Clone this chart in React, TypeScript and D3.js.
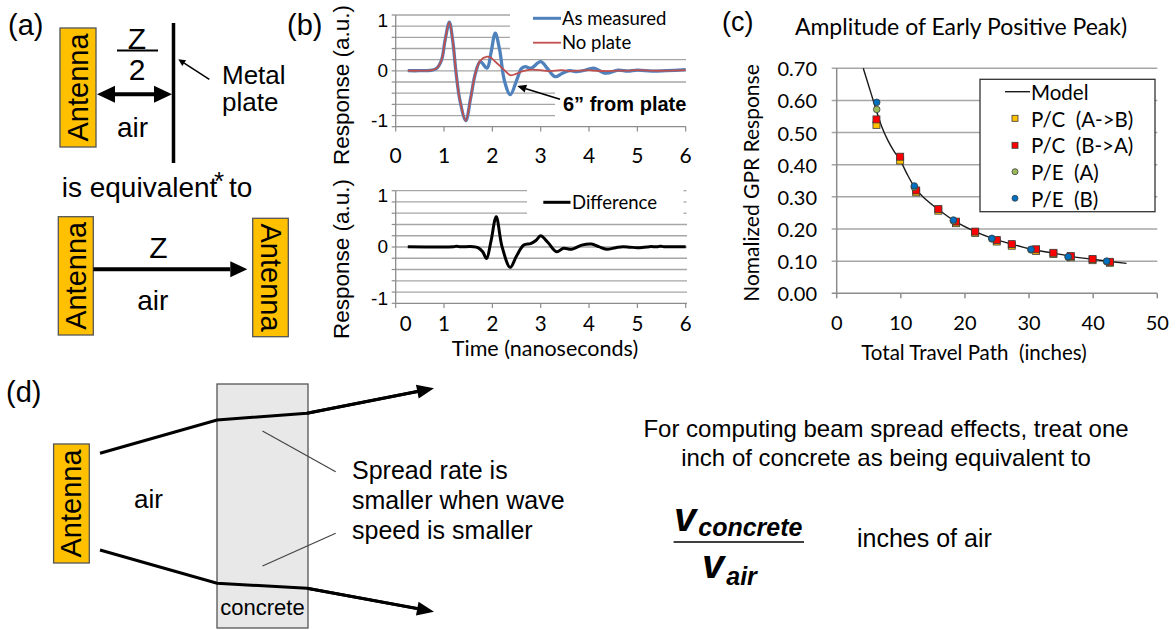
import React from "react";
import * as d3 from "d3";

// ---------- Panel (b) data ----------
const timeNs = [0.25, 0.5, 0.75, 0.85, 0.95, 1.02, 1.11, 1.18, 1.25, 1.33, 1.45, 1.55, 1.65, 1.75, 1.89, 1.97, 2.06, 2.15, 2.25, 2.37, 2.5, 2.6, 2.68, 2.8, 3.0, 3.15, 3.3, 3.45, 3.6, 3.75, 4.0, 4.1, 4.35, 4.6, 4.8, 5.0, 5.3, 5.6, 6.0];
const noPlate = [0, 0, 0.01, 0.05, 0.22, 0.6, 0.97, 0.6, -0.05, -0.6, -1.0, -0.55, -0.05, 0.2, 0.28, 0.26, 0.18, 0.1, 0.01, -0.09, -0.06, -0.02, 0.0, 0.02, 0.01, -0.01, 0.0, 0.01, -0.01, 0.0, 0.01, 0.0, -0.01, 0.0, 0.0, 0.01, 0.0, 0.0, 0.01];
const asMeasured = [0, 0, 0.01, 0.05, 0.22, 0.6, 0.97, 0.6, -0.05, -0.6, -1.0, -0.55, -0.05, 0.18, 0.05, 0.35, 0.75, 0.42, -0.2, -0.48, -0.2, 0.04, 0.08, 0.05, 0.18, 0.03, -0.12, -0.05, 0.0, -0.02, 0.03, 0.05, -0.05, 0.01, -0.01, 0.01, -0.01, 0.0, 0.02];
const diffTimeNs = [0.25, 1.2, 1.26, 1.32, 1.6, 1.7, 1.8, 1.88, 1.97, 2.08, 2.2, 2.37, 2.5, 2.65, 2.79, 2.9, 3.0, 3.15, 3.33, 3.47, 3.64, 3.85, 4.05, 4.2, 4.36, 4.55, 4.7, 4.85, 5.0, 5.25, 5.42, 5.48, 5.55, 6.0];
const difference = [0, 0, 0.01, 0, 0, -0.02, -0.1, -0.23, 0.1, 0.58, 0.0, -0.4, -0.18, 0.03, 0.06, 0.12, 0.21, 0.08, -0.1, -0.03, -0.05, 0.03, 0.05, 0.0, -0.05, -0.02, 0.0, -0.01, -0.02, 0.0, 0.0, 0.01, 0.0, 0.0];
const timeTicks = [0, 1, 2, 3, 4, 5, 6];
const responseTicks = [1, 0, -1];

// ---------- Panel (c) data ----------
const pcX = [6.2, 9.9, 12.4, 15.85, 18.6, 21.6, 24.96, 27.3, 31.1, 33.8, 36.5, 39.9, 42.6];
const pcAB = [0.524, 0.413, 0.314, 0.257, 0.218, 0.188, 0.161, 0.148, 0.132, 0.122, 0.112, 0.103, 0.095];
const pcBA = [0.541, 0.425, 0.32, 0.262, 0.223, 0.192, 0.166, 0.153, 0.137, 0.126, 0.116, 0.107, 0.098];
const peX = [6.24, 12.1, 18.2, 24.2, 30.3, 36.1, 42.1];
const peA = [0.572, 0.33, 0.225, 0.169, 0.135, 0.112, 0.098];
const peB = [0.594, 0.334, 0.228, 0.171, 0.137, 0.114, 0.1];
const modelX = [4.15, 5, 5.7, 6.24, 7, 8, 9, 9.87, 11, 12.2, 14, 15.7, 18.3, 21.6, 24.3, 27.3, 30.3, 33.8, 36.5, 39.9, 42.6, 45.2];
const modelY = [0.7, 0.645, 0.6, 0.565, 0.52, 0.475, 0.44, 0.415, 0.37, 0.328, 0.29, 0.263, 0.226, 0.192, 0.171, 0.153, 0.137, 0.125, 0.115, 0.106, 0.099, 0.093];
const cYTicks = [0, 0.1, 0.2, 0.3, 0.4, 0.5, 0.6, 0.7];
const cXTicks = [0, 10, 20, 30, 40, 50];
const cLegend = ["Model", "P/C  (A->B)", "P/C  (B->A)", "P/E  (A)", "P/E  (B)"];

const ARIAL = "'Liberation Sans', Arial, sans-serif";
const CAL = "Lato, 'Open Sans', sans-serif";
const ORANGE = "#FFC000";

function head(x1: number, y1: number, x2: number, y2: number, len: number, hw: number) {
  const dx = x2 - x1, dy = y2 - y1;
  const L = Math.hypot(dx, dy);
  const ux = dx / L, uy = dy / L;
  const bx = x2 - ux * len, by = y2 - uy * len;
  const px = -uy * hw, py = ux * hw;
  return { pts: `${x2},${y2} ${bx + px},${by + py} ${bx - px},${by - py}`, bx, by };
}

function Arrow({ x1, y1, x2, y2, w, len, hw, color = "#000", both = false }: any) {
  const h = head(x1, y1, x2, y2, len, hw);
  const h2 = both ? head(x2, y2, x1, y1, len, hw) : null;
  const sx = h2 ? h2.bx : x1, sy = h2 ? h2.by : y1;
  return (
    <g>
      <line x1={sx} y1={sy} x2={h.bx} y2={h.by} stroke={color} strokeWidth={w} />
      <polygon points={h.pts} fill={color} />
      {h2 && <polygon points={h2.pts} fill={color} />}
    </g>
  );
}

function Antenna({ x, y, w, h, flip = false }: any) {
  return (
    <g>
      <rect x={x} y={y} width={w} height={h} fill={ORANGE} stroke="#555" strokeWidth={1.3} />
      <text
        transform={`translate(${x + w / 2},${y + h / 2}) rotate(${flip ? 90 : -90})`}
        textAnchor="middle" dominantBaseline="central" fontFamily={ARIAL} fontSize={29} fill="#000">
        Antenna
      </text>
    </g>
  );
}

export default function App() {
  // ----- panel (b) scales -----
  const xB = d3.scaleLinear().domain([0, 6]).range([395.7, 685.7]);
  const yTop = d3.scaleLinear().domain([-1, 1]).range([120.7, 20.7]);
  const yBot = d3.scaleLinear().domain([-1, 1]).range([298.3, 195]);
  const curve = d3.curveCatmullRom.alpha(0.5);
  const lineTop = (vals: number[]) =>
    d3.line<number>().x((_, i) => xB(timeNs[i])).y((v) => yTop(v)).curve(curve)(vals) || "";
  const lineDiff =
    d3.line<number>().x((_, i) => xB(diffTimeNs[i])).y((v) => yBot(v)).curve(curve)(difference) || "";

  const topGrid = d3.range(11).map((i) => 15 + (i * (126.7 - 15)) / 10);
  const topGridEnd = (i: number) => (i <= 3 ? 510 : i >= 7 && i <= 9 ? 555 : 686);
  const botGrid = d3.range(11).map((i) => 190.7 + (i * (303.3 - 190.7)) / 10);
  const botGridEnd = (i: number) => (i <= 2 ? 527 : 687);

  // ----- panel (c) scales -----
  const xC = d3.scaleLinear().domain([0, 50]).range([836.7, 1157.3]);
  const yC = d3.scaleLinear().domain([0, 0.7]).range([293.3, 68.3]);
  const modelPath =
    d3.line<number>().x((_, i) => xC(modelX[i])).y((v) => yC(v)).curve(d3.curveMonotoneX)(modelY) || "";

  const gridCol = "#a6a6a6";
  const axisCol = "#8c8c8c";

  const sq = (cx: number, cy: number, s: number, fill: string, k: string) => (
    <rect key={k} x={cx - s / 2} y={cy - s / 2} width={s} height={s} fill={fill} stroke="#3a3a3a" strokeWidth={0.8} />
  );
  const circ = (cx: number, cy: number, r: number, fill: string, k: string) => (
    <circle key={k} cx={cx} cy={cy} r={r} fill={fill} stroke="#3a3a3a" strokeWidth={0.8} />
  );

  return (
    <svg width={1176} height={630} style={{ position: "absolute", left: 0, top: 0, background: "#fff" }}>
      <rect width={1176} height={630} fill="#fff" />

      {/* ================= Panel (a) ================= */}
      <text x={8} y={35} fontFamily={ARIAL} fontSize={29}>(a)</text>
      <Antenna x={60} y={28} w={36} h={119} />
      <text x={137} y={48.5} textAnchor="middle" fontFamily={ARIAL} fontSize={30}>Z</text>
      <line x1={117} x2={158} y1={50.5} y2={50.5} stroke="#000" strokeWidth={2} />
      <text x={137} y={80} textAnchor="middle" fontFamily={ARIAL} fontSize={30}>2</text>
      <line x1={173.5} x2={173.5} y1={23} y2={163} stroke="#000" strokeWidth={3.5} />
      <Arrow x1={97} y1={94.3} x2={172} y2={94.3} w={4} len={18} hw={8.5} both />
      <text x={117} y={137} fontFamily={ARIAL} fontSize={28}>air</text>
      <Arrow x1={209.3} y1={79.3} x2={178.3} y2={59.3} w={1.5} len={7} hw={3.5} />
      <text x={222} y={84} fontFamily={ARIAL} fontSize={26}>Metal</text>
      <text x={222} y={111} fontFamily={ARIAL} fontSize={26}>plate</text>

      <text x={61.7} y={196.7} fontFamily={ARIAL} fontSize={28}>is equivalent</text>
      <text x={214} y={190} fontFamily={ARIAL} fontSize={26}>*</text>
      <text x={229} y={196.7} fontFamily={ARIAL} fontSize={28}>to</text>
      <Antenna x={58.3} y={216.7} w={35} h={118.3} />
      <Antenna x={252.7} y={218.3} w={35.6} h={118.4} flip />
      <Arrow x1={93.3} y1={269.3} x2={247.3} y2={269.3} w={4} len={17} hw={8} />
      <text x={158.3} y={258.3} textAnchor="middle" fontFamily={ARIAL} fontSize={30}>Z</text>
      <text x={137.3} y={310} fontFamily={ARIAL} fontSize={28}>air</text>

      {/* ================= Panel (b) ================= */}
      <text x={287} y={35} fontFamily={ARIAL} fontSize={29}>(b)</text>
      {/* top chart */}
      <g>
        {topGrid.map((y, i) => (
          <g key={"tg" + i}>
            <line x1={xB(0)} x2={i === 10 ? 686 : topGridEnd(i)} y1={y} y2={y} stroke={i === 10 ? axisCol : gridCol} strokeWidth={1.3} />
            <line x1={xB(0) - 4} x2={xB(0)} y1={y} y2={y} stroke={axisCol} strokeWidth={1.2} />
          </g>
        ))}
        <line x1={xB(0)} x2={xB(0)} y1={15} y2={126.7} stroke={axisCol} strokeWidth={1.3} />
        {timeTicks.map((t) => (
          <g key={"tt" + t}>
            <line x1={xB(t)} x2={xB(t)} y1={126.7} y2={131.5} stroke={axisCol} strokeWidth={1.2} />
            <text x={xB(t)} y={163} textAnchor="middle" fontFamily={CAL} fontSize={21}>{t}</text>
          </g>
        ))}
        {responseTicks.map((v) => (
          <text key={"ty" + v} x={388} y={yTop(v)} textAnchor="end" dominantBaseline="central" fontFamily={ARIAL} fontSize={19}>{v}</text>
        ))}
        <text transform={`translate(348.5,85) rotate(-90)`} textAnchor="middle" fontFamily={ARIAL} fontSize={22.5}>Response (a.u.)</text>
        <path d={lineTop(asMeasured)} fill="none" stroke="#4F81BD" strokeWidth={3.3} strokeLinejoin="round" />
        <path d={lineTop(noPlate)} fill="none" stroke="#C0504D" strokeWidth={1.8} strokeLinejoin="round" />
        {/* legend */}
        <line x1={533} x2={561} y1={18.3} y2={18.3} stroke="#4F81BD" strokeWidth={3} />
        <text x={562} y={25} fontFamily={CAL} fontSize={18.5}>As measured</text>
        <line x1={533} x2={561} y1={42.7} y2={42.7} stroke="#C0504D" strokeWidth={1.8} />
        <text x={562} y={48.5} fontFamily={CAL} fontSize={18.5}>No plate</text>
        {/* annotation */}
        <Arrow x1={560} y1={99.3} x2={517.3} y2={86} w={1.6} len={9} hw={4} />
        <text x={563} y={111} fontFamily={ARIAL} fontSize={20} fontWeight="bold">6” from plate</text>
      </g>

      {/* bottom chart */}
      <g>
        {botGrid.map((y, i) => (
          <g key={"bg" + i}>
            <line x1={xB(0)} x2={i === 10 ? 687 : botGridEnd(i)} y1={y} y2={y} stroke={i === 10 ? axisCol : gridCol} strokeWidth={1.3} />
            {i <= 2 && <line x1={683.5} x2={686.5} y1={y} y2={y} stroke={gridCol} strokeWidth={1.3} />}
            <line x1={xB(0) - 4} x2={xB(0)} y1={y} y2={y} stroke={axisCol} strokeWidth={1.2} />
          </g>
        ))}
        <line x1={xB(0)} x2={xB(0)} y1={190.7} y2={303.3} stroke={axisCol} strokeWidth={1.3} />
        {timeTicks.map((t) => (
          <g key={"bt" + t}>
            <line x1={xB(t)} x2={xB(t)} y1={303.3} y2={308} stroke={axisCol} strokeWidth={1.2} />
            <text x={xB(t) + (t === 0 ? 10 : 0)} y={330.5} textAnchor="middle" fontFamily={CAL} fontSize={20.5}>{t}</text>
          </g>
        ))}
        {responseTicks.map((v) => (
          <text key={"by" + v} x={388} y={yBot(v)} textAnchor="end" dominantBaseline="central" fontFamily={ARIAL} fontSize={19}>{v}</text>
        ))}
        <text transform={`translate(348.5,259) rotate(-90)`} textAnchor="middle" fontFamily={ARIAL} fontSize={22.5}>Response (a.u.)</text>
        <text x={545} y={356} textAnchor="middle" fontFamily={CAL} fontSize={21.5}>Time (nanoseconds)</text>
        <path d={lineDiff} fill="none" stroke="#000" strokeWidth={3} strokeLinejoin="round" />
        <line x1={543.3} x2={570.5} y1={202.3} y2={202.3} stroke="#000" strokeWidth={3} />
        <text x={572} y={208.5} fontFamily={CAL} fontSize={18.5}>Difference</text>
      </g>

      {/* ================= Panel (c) ================= */}
      <text x={722} y={31} fontFamily={ARIAL} fontSize={27}>(c)</text>
      <text x={961} y={35} textAnchor="middle" fontFamily={CAL} fontSize={23}>Amplitude of Early Positive Peak)</text>
      <g>
        {cYTicks.map((v) => (
          <g key={"cy" + v}>
            <line x1={xC(0) - 5} x2={xC(50)} y1={yC(v)} y2={yC(v)} stroke={v === 0 ? axisCol : gridCol} strokeWidth={1.5} />
            <text x={817} y={yC(v)} textAnchor="end" dominantBaseline="central" fontFamily={CAL} fontSize={20}>{v.toFixed(2)}</text>
          </g>
        ))}
        <line x1={xC(0)} x2={xC(0)} y1={yC(0.7)} y2={yC(0)} stroke={axisCol} strokeWidth={1.5} />
        {cXTicks.map((v) => (
          <g key={"cx" + v}>
            <line x1={xC(v)} x2={xC(v)} y1={yC(0)} y2={yC(0) + 5} stroke={axisCol} strokeWidth={1.5} />
            <text x={xC(v)} y={330} textAnchor="middle" fontFamily={CAL} fontSize={20}>{v}</text>
          </g>
        ))}
        <text x={974} y={360} textAnchor="middle" fontFamily={CAL} fontSize={20.5} style={{ whiteSpace: "pre" }}>{"Total Travel Path  (inches)"}</text>
        <text transform={`translate(759,183) rotate(-90)`} textAnchor="middle" fontFamily={CAL} fontSize={21}>Nomalized GPR Response</text>
        <path d={modelPath} fill="none" stroke="#1a1a1a" strokeWidth={1.4} />
        {pcX.map((x, i) => sq(xC(x), yC(pcAB[i]), 7, ORANGE, "o" + i))}
        {pcX.map((x, i) => sq(xC(x), yC(pcBA[i]), 7, "#FF0000", "r" + i))}
        {peX.map((x, i) => circ(xC(x), yC(peA[i]), 3.3, "#9BBB59", "g" + i))}
        {peX.map((x, i) => circ(xC(x), yC(peB[i]), 3.3, "#0070C0", "b" + i))}
        {/* legend */}
        <rect x={980} y={79.3} width={175} height={132.4} fill="#fff" stroke="#333" strokeWidth={1.3} />
        <line x1={1005} x2={1030} y1={91.7} y2={91.7} stroke="#1a1a1a" strokeWidth={1.4} />
        {cLegend.map((s, i) => (
          <text key={"cl" + i} x={1031} y={100 + i * 26.7} fontFamily={CAL} fontSize={20.5} style={{ whiteSpace: "pre" }}>{s}</text>
        ))}
        {sq(1015, 118.3, 6, ORANGE, "lo")}
        {sq(1015, 145.3, 6, "#FF0000", "lr")}
        {circ(1015, 171.7, 3, "#9BBB59", "lg")}
        {circ(1015, 198.3, 3, "#0070C0", "lb")}
      </g>

      {/* ================= Panel (d) ================= */}
      <text x={6} y={402} fontFamily={ARIAL} fontSize={29}>(d)</text>
      <rect x={217} y={384} width={91} height={244} fill="#e8e8e8" stroke="#555" strokeWidth={1.3} />
      <text x={262.5} y={615} textAnchor="middle" fontFamily={ARIAL} fontSize={22}>concrete</text>
      <Antenna x={53.6} y={444} w={35.7} h={119} />
      <text x={134} y={508} fontFamily={ARIAL} fontSize={26}>air</text>
      <polyline points="100,453.3 217,420 307,413.3 420,391" fill="none" stroke="#000" strokeWidth={3} />
      <Arrow x1={307} y1={413.3} x2={434} y2={388.3} w={3} len={17} hw={7} />
      <polyline points="100,550 217,583.3 307,588.3 420,609" fill="none" stroke="#000" strokeWidth={3} />
      <Arrow x1={307} y1={588.3} x2={434} y2={611.7} w={3} len={17} hw={7} />
      <line x1={262.5} y1={431} x2={335.7} y2={471.7} stroke="#444" strokeWidth={1.2} />
      <line x1={262.5} y1={566} x2={335.7} y2={533.3} stroke="#444" strokeWidth={1.2} />
      <text x={352} y={479} fontFamily={ARIAL} fontSize={25}>
        <tspan x={352}>Spread rate is</tspan>
        <tspan x={352} dy={30}>smaller when wave</tspan>
        <tspan x={352} dy={30}>speed is smaller</tspan>
      </text>

      <text x={886} y={437} textAnchor="middle" fontFamily={ARIAL} fontSize={24}>
        <tspan x={886}>For computing beam spread effects, treat one</tspan>
        <tspan x={886} dy={29}>inch of concrete as being equivalent to</tspan>
      </text>
      <text x={674} y={531} fontFamily={ARIAL} fontWeight="bold" fontStyle="italic">
        <tspan fontSize={40}>v</tspan>
        <tspan fontSize={25} dx={2} dy={5}>concrete</tspan>
      </text>
      <line x1={673.6} x2={804} y1={542} y2={542} stroke="#000" strokeWidth={1.5} />
      <text x={702} y={578} fontFamily={ARIAL} fontWeight="bold" fontStyle="italic">
        <tspan fontSize={40}>v</tspan>
        <tspan fontSize={25} dx={2} dy={7}>air</tspan>
      </text>
      <text x={857} y={547} fontFamily={ARIAL} fontSize={25}>inches of air</text>
    </svg>
  );
}
